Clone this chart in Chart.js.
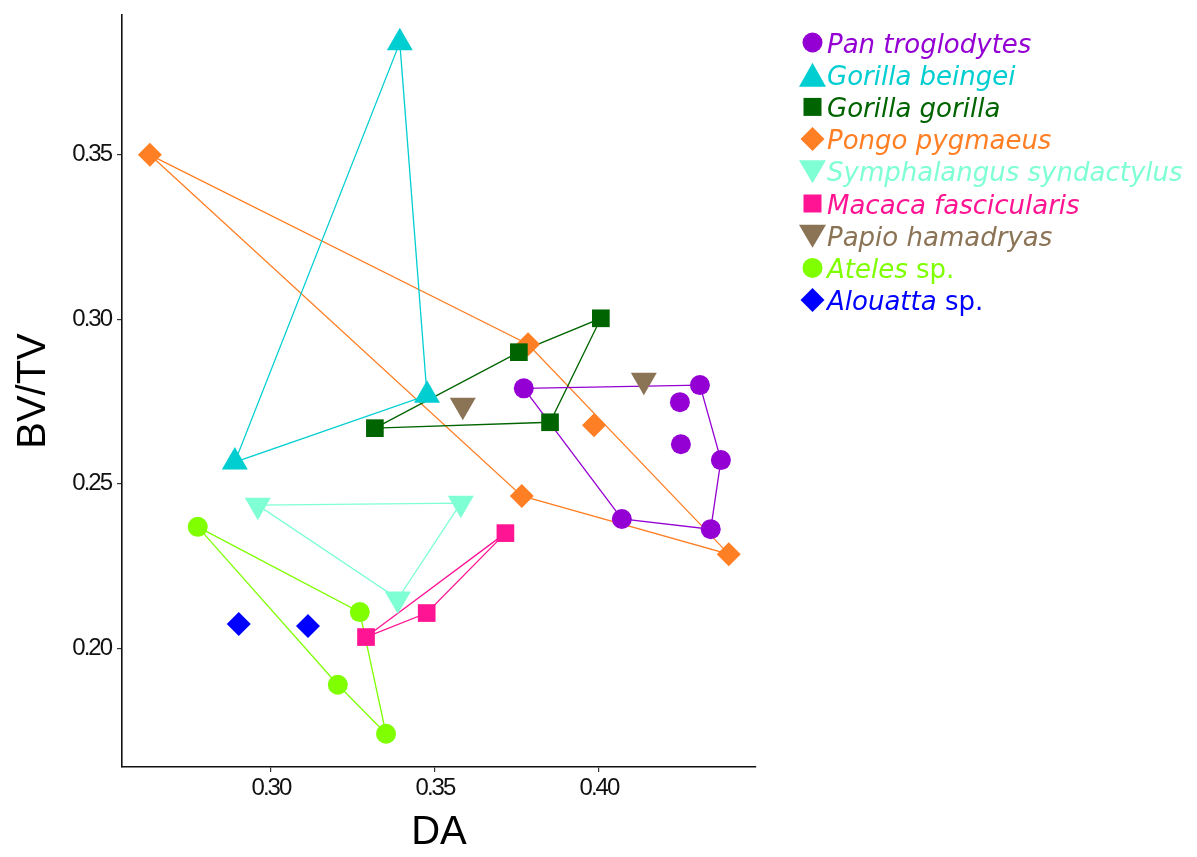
<!DOCTYPE html>
<html>
<head>
<meta charset="utf-8">
<script src="https://cdn.jsdelivr.net/npm/chart.js@4.4.1/dist/chart.umd.min.js"></script>
<style>
  html, body { margin: 0; padding: 0; background: #fff; }
  #wrap { width: 1197px; height: 857px; }
</style>
</head>
<body>
<div id="wrap"><canvas id="grafico" width="1197" height="857"></canvas></div>
<script>
// Especies y colores
const especies = ['Pan troglodytes', 'Gorilla beingei', 'Gorilla gorilla', 'Pongo pygmaeus',
  'Symphalangus syndactylus', 'Macaca fascicularis', 'Papio hamadryas', 'Ateles', 'Alouatta'];
const sufijos = ['', '', '', '', '', '', '', ' sp.', ' sp.'];
const colores = ['#9400D3', '#00CED1', '#006400', '#FF7F24', '#7FFFD4', '#FF1493', '#8B7355', '#7FFF00', '#0000FF'];
const formas = ['circle', 'triangle', 'rect', 'diamond', 'down', 'rect', 'down', 'circle', 'diamond'];

// Valores DA (x) y BV/TV (y) por especie
const panX = [0.3771, 0.4070, 0.4341, 0.4372, 0.4308, 0.4247, 0.4250];
const panY = [0.2790, 0.2393, 0.2362, 0.2572, 0.2800, 0.2748, 0.2620];
const beingeiX = [0.3393, 0.3476, 0.2890];
const beingeiY = [0.3841, 0.2769, 0.2566];
const gorillaX = [0.3756, 0.4006, 0.3851, 0.3317];
const gorillaY = [0.2900, 0.3003, 0.2687, 0.2669];
const pongoX = [0.2631, 0.3784, 0.3985, 0.3765, 0.4396];
const pongoY = [0.3500, 0.2924, 0.2678, 0.2463, 0.2286];
const symphX = [0.2960, 0.3579, 0.3387];
const symphY = [0.2435, 0.2441, 0.2150];
const macacaX = [0.3290, 0.3475, 0.3715];
const macacaY = [0.2034, 0.2107, 0.2350];
const papioX = [0.3585, 0.4137];
const papioY = [0.2739, 0.2815];
const atelesX = [0.2777, 0.3271, 0.3204, 0.3351];
const atelesY = [0.2369, 0.2110, 0.1889, 0.1740];
const alouattaX = [0.2902, 0.3113];
const alouattaY = [0.2074, 0.2068];

// Orden de los vértices del polígono convexo (null = sin polígono)
const panHull = [0, 4, 3, 2, 1, 0];
const beingeiHull = [0, 1, 2, 0];
const gorillaHull = [3, 0, 1, 2, 3];
const pongoHull = [0, 1, 4, 3, 0];
const symphHull = [0, 1, 2, 0];
const macacaHull = [0, 1, 2, 0];
const atelesHull = [0, 1, 3, 2, 0];

const xTicks = [0.30, 0.35, 0.40];
const yTicks = [0.20, 0.25, 0.30, 0.35];

const grupos = [
  [panX, panY, panHull], [beingeiX, beingeiY, beingeiHull], [gorillaX, gorillaY, gorillaHull],
  [pongoX, pongoY, pongoHull], [symphX, symphY, symphHull], [macacaX, macacaY, macacaHull],
  [papioX, papioY, null], [atelesX, atelesY, atelesHull], [alouattaX, alouattaY, null]
];

function estiloPunto(forma) {
  if (forma === 'circle') return { pointStyle: 'circle', pointRadius: 10, rotation: 0 };
  if (forma === 'triangle') return { pointStyle: 'triangle', pointRadius: 15, rotation: 0 };
  if (forma === 'down') return { pointStyle: 'triangle', pointRadius: 15, rotation: 180 };
  if (forma === 'rect') return { pointStyle: 'rect', pointRadius: 12.5, rotation: 0 };
  return { pointStyle: 'rectRot', pointRadius: 12, rotation: 0 };
}

const datasetsPuntos = [];
const datasetsLineas = [];
grupos.forEach((g, i) => {
  const [xs, ys, hull] = g;
  const est = estiloPunto(formas[i]);
  datasetsPuntos.push({
    label: especies[i],
    data: xs.map((x, k) => ({ x: x, y: ys[k] })),
    backgroundColor: colores[i],
    borderColor: colores[i],
    borderWidth: 0,
    pointStyle: est.pointStyle,
    pointRadius: est.pointRadius,
    pointRotation: est.rotation,
    showLine: false
  });
  if (hull) {
    datasetsLineas.push({
      label: especies[i] + ' hull',
      data: hull.map(k => ({ x: xs[k], y: ys[k] })),
      borderColor: colores[i],
      borderWidth: 1.3,
      pointRadius: 0,
      showLine: true,
      fill: false,
      tension: 0
    });
  }
});

// Dibujo de un símbolo de la leyenda
function dibujarSimbolo(ctx, forma, x, y, color) {
  ctx.fillStyle = color;
  ctx.beginPath();
  if (forma === 'circle') {
    ctx.arc(x, y, 10, 0, Math.PI * 2);
  } else if (forma === 'triangle') {
    ctx.moveTo(x, y - 12); ctx.lineTo(x + 13.5, y + 12); ctx.lineTo(x - 13.5, y + 12);
  } else if (forma === 'down') {
    ctx.moveTo(x - 13.5, y - 11); ctx.lineTo(x + 13.5, y - 11); ctx.lineTo(x, y + 12);
  } else if (forma === 'rect') {
    ctx.rect(x - 9, y - 9, 18, 18);
  } else {
    ctx.moveTo(x, y - 12); ctx.lineTo(x + 12, y); ctx.lineTo(x, y + 12); ctx.lineTo(x - 12, y);
  }
  ctx.closePath();
  ctx.fill();
}

const leyendaPlugin = {
  id: 'leyendaEspecies',
  afterDraw(chart) {
    const ctx = chart.ctx;
    ctx.save();
    const baseY = 52.5;
    const paso = 32.2;
    especies.forEach((nombre, i) => {
      const yb = baseY + i * paso;
      dibujarSimbolo(ctx, formas[i], 812.5, yb - 10, colores[i]);
      ctx.fillStyle = colores[i];
      ctx.textBaseline = 'alphabetic';
      ctx.textAlign = 'left';
      ctx.font = 'italic 26px "DejaVu Sans"';
      ctx.fillText(nombre, 827, yb);
      if (sufijos[i]) {
        const w = ctx.measureText(nombre).width;
        ctx.font = '26px "DejaVu Sans"';
        ctx.fillText(sufijos[i], 827 + w, yb);
      }
    });
    ctx.restore();
  }
};

// Etiquetas de ticks más apretadas, como en la figura original
const ticksApretados = {
  id: 'ticksApretados',
  beforeDraw(chart) {
    Object.values(chart.scales).forEach(s => {
      if (s._parcheado) return;
      const orig = s.drawLabels.bind(s);
      s.drawLabels = function (area) {
        const ctx = this.ctx;
        ctx.save();
        ctx.letterSpacing = '-2px';
        orig(area);
        ctx.restore();
      };
      s._parcheado = true;
    });
  }
};

new Chart(document.getElementById('grafico').getContext('2d'), {
  type: 'scatter',
  data: { datasets: datasetsPuntos.concat(datasetsLineas) },
  options: {
    responsive: false,
    animation: false,
    layout: { padding: { top: 10, right: 441, left: 0, bottom: 0 } },
    plugins: { legend: { display: false }, tooltip: { enabled: false } },
    scales: {
      x: {
        type: 'linear',
        min: 0.2546,
        max: 0.4479,
        afterFit: s => { s.height = 90; s.paddingLeft = 0; s.paddingRight = 0; },
        afterBuildTicks: s => { s.ticks = xTicks.map(v => ({ value: v })); },
        ticks: {
          callback: v => v.toFixed(2),
          color: '#111',
          font: { family: '"Liberation Sans"', size: 24 },
          padding: 2
        },
        grid: { display: true, drawOnChartArea: false, drawTicks: true, tickLength: 5, color: '#333', lineWidth: 1.2 },
        border: { display: true, color: '#111', width: 1.6 },
        title: { display: true, text: 'DA', color: '#000', font: { family: '"Liberation Sans"', size: 40 }, padding: { top: 7, bottom: 0 } }
      },
      y: {
        type: 'linear',
        min: 0.1639,
        max: 0.3925,
        afterFit: s => { s.width = 122; s.paddingTop = 0; s.paddingBottom = 0; },
        afterBuildTicks: s => { s.ticks = yTicks.map(v => ({ value: v })); },
        ticks: {
          callback: v => v.toFixed(2),
          color: '#111',
          font: { family: '"Liberation Sans"', size: 24, lineHeight: 0.6 },
          padding: 6
        },
        grid: { display: true, drawOnChartArea: false, drawTicks: true, tickLength: 5, color: '#333', lineWidth: 1.2 },
        border: { display: true, color: '#111', width: 1.6 },
        title: { display: true, text: 'BV/TV', color: '#000', font: { family: '"Liberation Sans"', size: 40 }, padding: { top: 10, bottom: 0 } }
      }
    }
  },
  plugins: [ticksApretados, leyendaPlugin]
});
</script>
</body>
</html>
